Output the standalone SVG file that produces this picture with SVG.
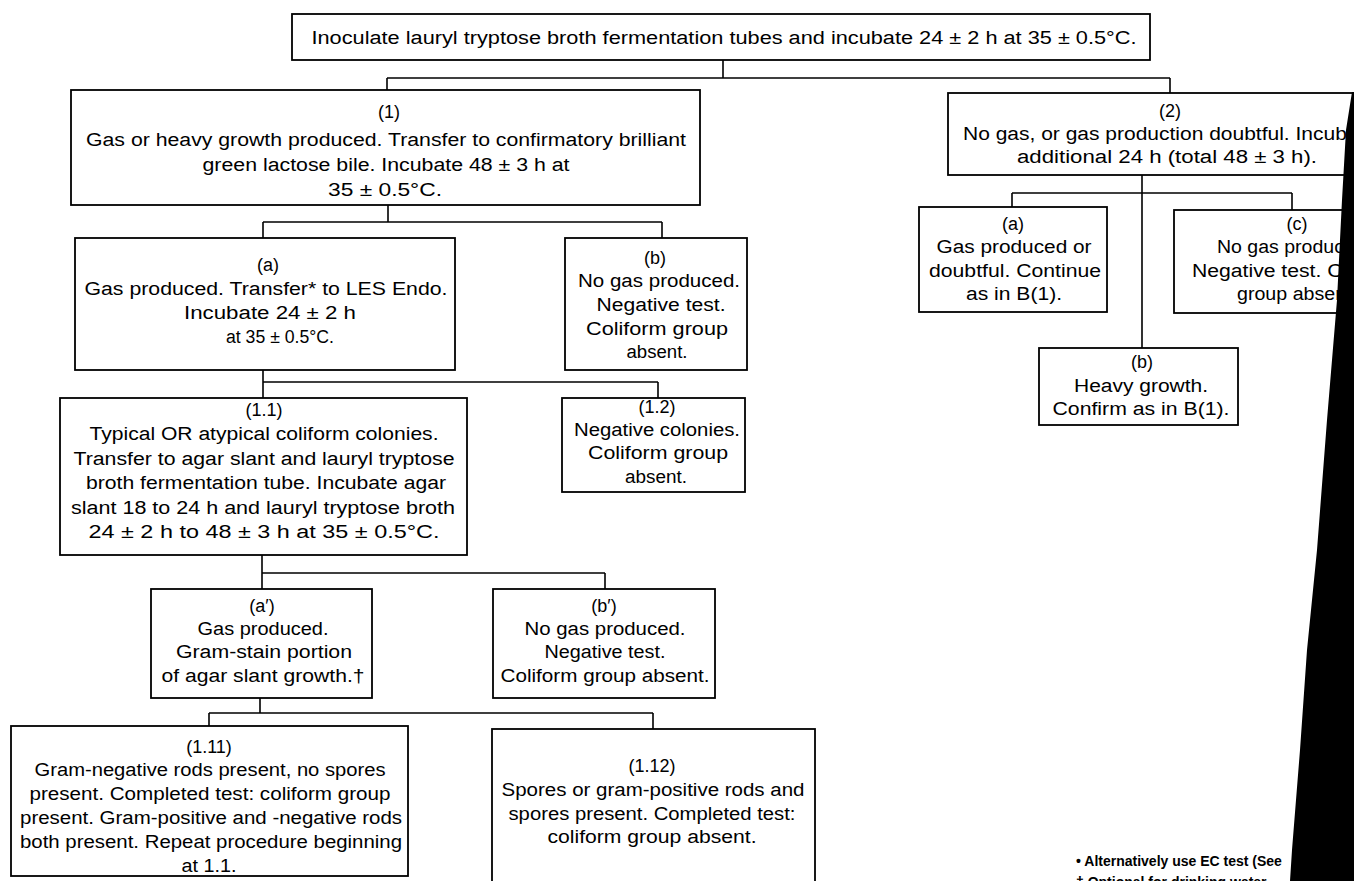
<svg xmlns="http://www.w3.org/2000/svg" width="1354" height="881" viewBox="0 0 1354 881">
<style>
.bx{fill:#fff;stroke:#000;stroke-width:1.8}
.cn{fill:none;stroke:#000;stroke-width:1.6}
text{font-family:"Liberation Sans",Arial,sans-serif;font-size:18px;fill:#000}
.c{text-anchor:middle}
.s{text-anchor:start}
.fn{font-size:14px;font-weight:bold}
</style>
<rect width="1354" height="881" fill="#fff"/>
<g id="connectors">
<path class="cn" d="M723 60V78M387 78H1170M387 78V90M1170 78V93"/>
<path class="cn" d="M388 205V222M263 222H662M263 222V238M662 222V238"/>
<path class="cn" d="M263 370V398M263 382H658M658 382V398"/>
<path class="cn" d="M262 555V589M262 573H605M605 573V589"/>
<path class="cn" d="M260 698V713M209 713H653M209 713V726M653 713V729"/>
<path class="cn" d="M1142 175V348M1012 193H1292M1012 193V207M1292 193V210"/>
</g>
<g id="start">
<rect class="bx" x="292" y="14" width="858" height="46"/>
<text class="c" x="724" y="44" textLength="825" lengthAdjust="spacingAndGlyphs">Inoculate lauryl tryptose broth fermentation tubes and incubate 24 ± 2 h at 35 ± 0.5°C.</text>
</g>
<g id="n1">
<rect class="bx" x="71" y="90" width="629" height="115"/>
<text class="c" x="389" y="118">(1)</text>
<text class="c" x="386" y="146" textLength="600" lengthAdjust="spacingAndGlyphs">Gas or heavy growth produced. Transfer to confirmatory brilliant</text>
<text class="c" x="386" y="171" textLength="367" lengthAdjust="spacingAndGlyphs">green lactose bile. Incubate 48 ± 3 h at</text>
<text class="c" x="385" y="196" textLength="114" lengthAdjust="spacingAndGlyphs">35 ± 0.5°C.</text>
</g>
<g id="n2">
<rect class="bx" x="948" y="93" width="420" height="82"/>
<text class="c" x="1170" y="117">(2)</text>
<text class="s" x="963" y="140" textLength="413" lengthAdjust="spacingAndGlyphs">No gas, or gas production doubtful. Incubate</text>
<text class="c" x="1167" y="163" textLength="300" lengthAdjust="spacingAndGlyphs">additional 24 h (total 48 ± 3 h).</text>
</g>
<g id="n2a">
<rect class="bx" x="919" y="207" width="188" height="105"/>
<text class="c" x="1013" y="230">(a)</text>
<text class="c" x="1014" y="253" textLength="155" lengthAdjust="spacingAndGlyphs">Gas produced or</text>
<text class="c" x="1015" y="277" textLength="172" lengthAdjust="spacingAndGlyphs">doubtful. Continue</text>
<text class="c" x="1014" y="300" textLength="96" lengthAdjust="spacingAndGlyphs">as in B(1).</text>
</g>
<g id="n2b">
<rect class="bx" x="1039" y="348" width="199" height="77"/>
<text class="c" x="1142" y="368">(b)</text>
<text class="c" x="1141" y="392" textLength="134" lengthAdjust="spacingAndGlyphs">Heavy growth.</text>
<text class="c" x="1141" y="415" textLength="177" lengthAdjust="spacingAndGlyphs">Confirm as in B(1).</text>
</g>
<g id="n2c">
<rect class="bx" x="1174" y="210" width="200" height="103"/>
<text class="c" x="1297" y="230">(c)</text>
<text class="s" x="1217" y="253" textLength="154" lengthAdjust="spacingAndGlyphs">No gas produced.</text>
<text class="s" x="1192" y="277" textLength="214" lengthAdjust="spacingAndGlyphs">Negative test. Coliform</text>
<text class="s" x="1237" y="300" textLength="120" lengthAdjust="spacingAndGlyphs">group absent.</text>
</g>
<g id="n1a">
<rect class="bx" x="75" y="238" width="380" height="132"/>
<text class="c" x="268" y="271">(a)</text>
<text class="c" x="266" y="295" textLength="363" lengthAdjust="spacingAndGlyphs">Gas produced. Transfer* to LES Endo.</text>
<text class="c" x="270" y="319" textLength="172" lengthAdjust="spacingAndGlyphs">Incubate 24 ± 2 h</text>
<text class="c" x="280" y="343" textLength="108" lengthAdjust="spacingAndGlyphs">at 35 ± 0.5°C.</text>
</g>
<g id="n1b">
<rect class="bx" x="565" y="238" width="182" height="132"/>
<text class="c" x="655" y="264">(b)</text>
<text class="c" x="659" y="287" textLength="162" lengthAdjust="spacingAndGlyphs">No gas produced.</text>
<text class="c" x="661" y="311" textLength="129" lengthAdjust="spacingAndGlyphs">Negative test.</text>
<text class="c" x="657" y="335" textLength="142" lengthAdjust="spacingAndGlyphs">Coliform group</text>
<text class="c" x="657" y="358" textLength="61" lengthAdjust="spacingAndGlyphs">absent.</text>
</g>
<g id="n11">
<rect class="bx" x="60" y="398" width="407" height="157"/>
<text class="c" x="264" y="416">(1.1)</text>
<text class="c" x="264" y="440" textLength="349" lengthAdjust="spacingAndGlyphs">Typical OR atypical coliform colonies.</text>
<text class="c" x="264" y="465" textLength="381" lengthAdjust="spacingAndGlyphs">Transfer to agar slant and lauryl tryptose</text>
<text class="c" x="266" y="489" textLength="360" lengthAdjust="spacingAndGlyphs">broth fermentation tube. Incubate agar</text>
<text class="c" x="263" y="514" textLength="384" lengthAdjust="spacingAndGlyphs">slant 18 to 24 h and lauryl tryptose broth</text>
<text class="c" x="264" y="538" textLength="351" lengthAdjust="spacingAndGlyphs">24 ± 2 h to 48 ± 3 h at 35 ± 0.5°C.</text>
</g>
<g id="n12">
<rect class="bx" x="562" y="398" width="183" height="94"/>
<text class="c" x="657" y="413">(1.2)</text>
<text class="c" x="657" y="436" textLength="166" lengthAdjust="spacingAndGlyphs">Negative colonies.</text>
<text class="c" x="658" y="459" textLength="140" lengthAdjust="spacingAndGlyphs">Coliform group</text>
<text class="c" x="656" y="483" textLength="62" lengthAdjust="spacingAndGlyphs">absent.</text>
</g>
<g id="na2">
<rect class="bx" x="151" y="589" width="221" height="109"/>
<text class="c" x="262" y="612">(a′)</text>
<text class="c" x="263" y="635" textLength="131" lengthAdjust="spacingAndGlyphs">Gas produced.</text>
<text class="c" x="264" y="658" textLength="176" lengthAdjust="spacingAndGlyphs">Gram-stain portion</text>
<text class="c" x="263" y="682" textLength="203" lengthAdjust="spacingAndGlyphs">of agar slant growth.†</text>
</g>
<g id="nb2">
<rect class="bx" x="493" y="589" width="222" height="109"/>
<text class="c" x="604" y="612">(b′)</text>
<text class="c" x="605" y="635" textLength="161" lengthAdjust="spacingAndGlyphs">No gas produced.</text>
<text class="c" x="605" y="658" textLength="121" lengthAdjust="spacingAndGlyphs">Negative test.</text>
<text class="c" x="605" y="682" textLength="209" lengthAdjust="spacingAndGlyphs">Coliform group absent.</text>
</g>
<g id="n111">
<rect class="bx" x="11" y="726" width="397" height="150"/>
<text class="c" x="209" y="753">(1.11)</text>
<text class="c" x="210" y="776" textLength="351" lengthAdjust="spacingAndGlyphs">Gram-negative rods present, no spores</text>
<text class="c" x="210" y="800" textLength="361" lengthAdjust="spacingAndGlyphs">present. Completed test: coliform group</text>
<text class="c" x="211" y="824" textLength="382" lengthAdjust="spacingAndGlyphs">present. Gram-positive and -negative rods</text>
<text class="c" x="211" y="848" textLength="382" lengthAdjust="spacingAndGlyphs">both present. Repeat procedure beginning</text>
<text class="c" x="209" y="872" textLength="55" lengthAdjust="spacingAndGlyphs">at 1.1.</text>
</g>
<g id="n112">
<rect class="bx" x="492" y="729" width="323" height="172"/>
<text class="c" x="652" y="772">(1.12)</text>
<text class="c" x="653" y="796" textLength="303" lengthAdjust="spacingAndGlyphs">Spores or gram-positive rods and</text>
<text class="c" x="652" y="820" textLength="287" lengthAdjust="spacingAndGlyphs">spores present. Completed test:</text>
<text class="c" x="652" y="843" textLength="209" lengthAdjust="spacingAndGlyphs">coliform group absent.</text>
</g>
<g id="footnotes">
<text class="s fn" x="1076" y="866">• Alternatively use EC test (See</text>
<text class="s fn" x="1076" y="887">† Optional for drinking water</text>
</g>
<polygon fill="#000" points="1352,92 1354,92 1354,881 1290,881 1292,850 1300,750 1307,650 1317,550 1327,420 1337,300 1342,200 1346,130"/>
</svg>
